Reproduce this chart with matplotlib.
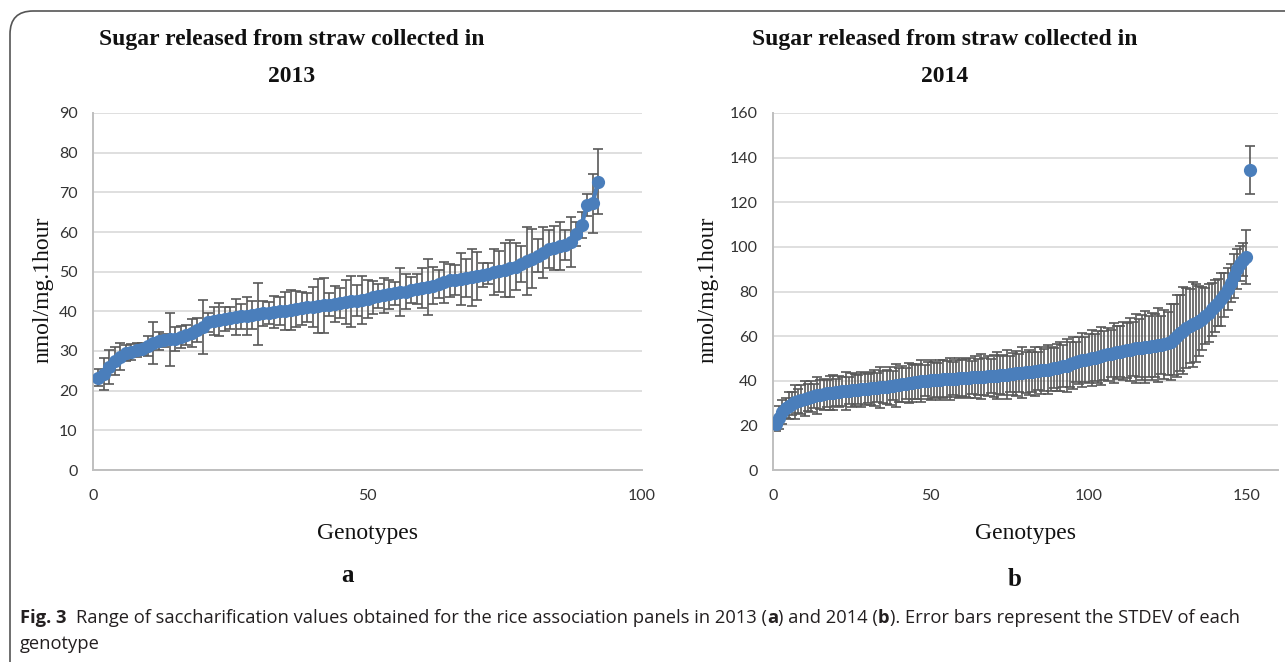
import matplotlib
matplotlib.use("Agg")
import matplotlib.pyplot as plt
from matplotlib.patches import FancyBboxPatch
import numpy as np

# ---------------- data ----------------
years = ["2013", "2014"]
panel_letters = ["a", "b"]

sugar_2013 = [23.3, 24.2, 26.0, 27.5, 28.5, 29.4, 29.8, 30.2, 30.6, 31.2,
              32.0, 32.5, 32.7, 32.9, 33.1, 33.5, 34.0, 34.5, 35.2, 36.0,
              37.2, 37.6, 37.9, 38.1, 38.3, 38.5, 38.7, 38.9, 39.1, 39.3,
              39.5, 39.6, 39.8, 40.0, 40.2, 40.4, 40.6, 40.8, 41.0, 41.1,
              41.3, 41.5, 41.7, 41.9, 42.1, 42.3, 42.5, 42.7, 42.9, 43.1,
              43.5, 43.8, 44.1, 44.3, 44.5, 44.8, 45.0, 45.3, 45.6, 45.9,
              46.2, 46.5, 46.8, 47.3, 47.8, 48.0, 48.2, 48.4, 48.6, 48.9,
              49.2, 49.5, 49.8, 50.1, 50.4, 50.8, 51.3, 51.9, 52.6, 53.3,
              54.0, 54.8, 55.6, 56.0, 56.4, 56.8, 57.5, 59.5, 61.8, 66.8,
              67.2, 72.7]
stdev_2013 = [2.2, 4.0, 4.3, 3.5, 3.4, 2.0, 2.0, 1.8, 1.5, 2.5,
              5.3, 2.2, 1.7, 6.8, 3.0, 2.8, 2.5, 3.5, 3.0, 6.8,
              2.5, 3.5, 4.2, 3.0, 2.8, 4.5, 3.2, 4.8, 3.5, 7.8,
              3.2, 2.8, 4.0, 3.5, 4.8, 5.0, 4.6, 4.2, 3.6, 5.0,
              6.8, 6.9, 3.0, 4.5, 3.8, 5.5, 6.5, 4.0, 6.0, 4.8,
              4.2, 3.0, 4.4, 3.6, 2.8, 6.0, 4.5, 3.3, 3.8, 5.0,
              7.0, 4.6, 3.5, 5.2, 4.2, 3.8, 6.5, 4.8, 7.2, 6.0,
              3.0, 2.6, 5.8, 5.2, 6.8, 7.2, 6.0, 4.5, 8.6, 7.5,
              4.2, 6.5, 4.8, 5.5, 6.0, 3.8, 6.3, 3.0, 3.2, 2.7,
              7.4, 8.2]

sugar_2014 = [20.5, 23.5, 26.0, 27.8, 28.8, 29.8, 30.5, 31.0, 31.5, 32.0,
              32.4, 32.8, 33.1, 33.4, 33.7, 34.0, 34.3, 34.5, 34.7, 34.9,
              35.1, 35.3, 35.5, 35.6, 35.8, 35.9, 36.0, 36.1, 36.3, 36.4,
              36.6, 36.7, 36.9, 37.0, 37.2, 37.3, 37.5, 37.7, 37.9, 38.1,
              38.4, 38.7, 39.0, 39.2, 39.4, 39.6, 39.8, 40.0, 40.1, 40.2,
              40.3, 40.4, 40.5, 40.6, 40.7, 40.8, 40.9, 41.0, 41.1, 41.2,
              41.3, 41.4, 41.5, 41.6, 41.7, 41.8, 41.9, 42.0, 42.1, 42.2,
              42.3, 42.4, 42.5, 42.7, 42.9, 43.1, 43.3, 43.5, 43.6, 43.7,
              43.8, 44.0, 44.2, 44.4, 44.6, 44.8, 45.0, 45.3, 45.6, 45.9,
              46.2, 46.5, 46.8, 47.3, 47.9, 48.5, 48.9, 49.2, 49.5, 49.8,
              50.1, 50.4, 50.7, 51.0, 51.4, 51.8, 52.1, 52.4, 52.7, 53.0,
              53.3, 53.6, 53.9, 54.2, 54.5, 54.7, 54.9, 55.1, 55.3, 55.5,
              55.7, 55.9, 56.1, 56.4, 56.8, 57.5, 58.5, 60.0, 61.3, 62.5,
              63.5, 64.5, 65.3, 66.0, 66.8, 67.8, 69.0, 70.5, 72.0, 73.5,
              75.0, 76.5, 78.5, 81.0, 84.0, 87.0, 90.0, 92.5, 94.3, 95.5,
              134.6]
stdev_2014 = [3.0, 5.0, 5.5, 4.5, 6.0, 5.0, 7.5, 5.5, 6.5, 8.0,
              6.0, 7.0, 5.5, 8.5, 6.5, 7.0, 6.0, 7.5, 8.0, 6.0,
              7.0, 6.5, 8.5, 6.0, 7.5, 7.0, 6.5, 8.0, 7.0, 6.5,
              7.5, 8.0, 6.5, 9.0, 7.0, 7.5, 8.5, 6.5, 9.5, 7.5,
              8.0, 7.0, 9.0, 8.5, 7.5, 8.0, 9.5, 7.0, 8.5, 9.0,
              8.0, 7.5, 9.0, 8.5, 8.0, 9.5, 7.5, 8.5, 9.0, 8.0,
              8.5, 9.0, 7.5, 9.5, 8.0, 10.0, 8.5, 9.0, 7.5, 9.5,
              10.5, 8.5, 9.0, 11.0, 8.0, 9.5, 10.0, 8.5, 11.5, 9.0,
              10.0, 9.0, 11.0, 8.5, 10.5, 9.5, 11.0, 10.0, 9.0, 10.5,
              11.0, 9.5, 12.0, 10.0, 11.5, 9.0, 10.5, 12.0, 10.0, 11.0,
              12.5, 10.5, 11.5, 13.0, 11.0, 12.0, 10.5, 13.5, 12.0, 11.5,
              13.0, 12.5, 14.0, 12.0, 15.5, 13.0, 14.5, 16.0, 13.5, 15.0,
              14.0, 16.5, 13.0, 15.5, 14.0, 17.0, 16.0, 18.5, 17.0, 19.5,
              18.0, 16.5, 19.0, 17.5, 15.5, 14.0, 12.5, 13.0, 12.0, 11.5,
              10.5, 12.0, 10.0, 9.5, 8.5, 10.0, 9.0, 8.0, 7.5, 12.0,
              10.7]

# number of points joined by the line in each panel (the 2014 outlier stands alone)
joined_points = [len(sugar_2013), len(sugar_2014) - 1]

xlims = [(0, 100), (0, 160)]
xticks = [[0, 50, 100], [0, 50, 100, 150]]
ylims = [(0, 90), (0, 160)]
yticks = [list(range(0, 91, 10)), list(range(0, 161, 20))]

title_line1 = "Sugar released from straw collected in"
x_label = "Genotypes"
y_label = "nmol/mg.1hour"

# ---------------- figure ----------------
W, H = 1285, 662
fig = plt.figure(figsize=(W / 100, H / 100), dpi=100)
fig.patch.set_facecolor("white")

def fx(px):
    return px / W

def fy(py):
    return 1 - py / H

BLUE = "#4A7EBB"
ERR = "#595959"
GRID = "#D9D9D9"
SPINE = "#BFBFBF"
TICKFONT = "Lato"
SERIF = "Liberation Serif"

panels = [
    dict(box=(93, 113, 642, 470), vals=sugar_2013, err=stdev_2013,
         title_x=292, ylab_x=43, letter=(347, 575)),
    dict(box=(773, 113, 1278, 470), vals=sugar_2014, err=stdev_2014,
         title_x=945, ylab_x=708, letter=(1015, 580)),
]

for i, p in enumerate(panels):
    x0, y0, x1, y1 = p["box"]
    ax = fig.add_axes([fx(x0), fy(y1), fx(x1 - x0), (y1 - y0) / H])
    vals = np.array(p["vals"])
    err = np.array(p["err"])
    xs = np.arange(1, len(vals) + 1)
    n = joined_points[i]
    ax.errorbar(xs, vals, yerr=err, fmt="none", ecolor=ERR, elinewidth=1.2,
                capsize=3.5, capthick=1.2, zorder=2)
    ax.plot(xs[:n], vals[:n], "-", color=BLUE, lw=3, zorder=3)
    ax.plot(xs, vals, "o", color=BLUE, markersize=9.5,
            markeredgewidth=0, zorder=4)
    ax.set_xlim(*xlims[i])
    ax.set_ylim(*ylims[i])
    ax.set_xticks(xticks[i])
    ax.set_yticks(yticks[i])
    ax.yaxis.grid(True, color=GRID, lw=1.2)
    ax.set_axisbelow(True)
    for s in ["top", "right"]:
        ax.spines[s].set_visible(False)
    for s in ["left", "bottom"]:
        ax.spines[s].set_color(SPINE)
        ax.spines[s].set_linewidth(1.4)
    ax.tick_params(axis="both", length=0, labelsize=11.5, colors="#333333")
    ax.tick_params(axis="x", pad=14)
    ax.tick_params(axis="y", pad=11)
    for lab in ax.get_xticklabels() + ax.get_yticklabels():
        lab.set_family(TICKFONT)

    # titles
    fig.text(fx(p["title_x"]), fy(40), title_line1, ha="center", va="center",
             fontsize=17, fontweight="bold", family=SERIF, color="#111111")
    fig.text(fx(p["title_x"]), fy(77), years[i], ha="center", va="center",
             fontsize=17, fontweight="bold", family=SERIF, color="#111111")
    # axis labels
    fig.text(fx((x0 + x1) / 2), fy(533), x_label, ha="center", va="center",
             fontsize=17, family=SERIF, color="#111111")
    fig.text(fx(p["ylab_x"]), fy(290), y_label, ha="center", va="center",
             rotation=90, fontsize=17, family=SERIF, color="#111111")
    # panel letter
    lx, ly = p["letter"]
    fig.text(fx(lx), fy(ly), panel_letters[i], ha="center", va="center",
             fontsize=18, fontweight="bold", family=SERIF, color="#111111")

# rounded frame (partly outside the image)
frame = FancyBboxPatch((fx(10), fy(700)), fx(1330 - 10), (700 - 11) / H,
                       boxstyle="round,pad=0,rounding_size=0.018",
                       transform=fig.transFigure, fill=False,
                       edgecolor="#555555", lw=1.2, mutation_aspect=W / H)
fig.patches.append(frame)

# caption with bold pieces
renderer = fig.canvas.get_renderer()
CAP_FONT = "Open Sans"
CAP_SIZE = 13.25
CAP_COLOR = "#231F20"

def text_w(s, weight):
    t = fig.text(0, 0, s, fontsize=CAP_SIZE, family=CAP_FONT, fontweight=weight)
    w = t.get_window_extent(renderer).width
    t.remove()
    return w

space_w = text_w("a a", "normal") - text_w("aa", "normal")

def rich_line(x_px, y_px, segments):
    x = x_px
    for s, weight, gap in segments:
        x += gap * space_w
        t = fig.text(fx(x), fy(y_px), s, fontsize=CAP_SIZE, family=CAP_FONT,
                     fontweight=weight, ha="left", va="baseline",
                     color=CAP_COLOR)
        x += t.get_window_extent(renderer).width

rich_line(20, 623, [
    ("Fig. 3", "bold", 0),
    ("Range of saccharification values obtained for the rice association panels in 2013 (", "normal", 2),
    ("a", "bold", 0),
    (") and 2014 (", "normal", 0),
    ("b", "bold", 0),
    ("). Error bars represent the STDEV of each", "normal", 0),
])
rich_line(20, 649, [("genotype", "normal", 0)])

fig.savefig("out.png", dpi=100, facecolor="white")
